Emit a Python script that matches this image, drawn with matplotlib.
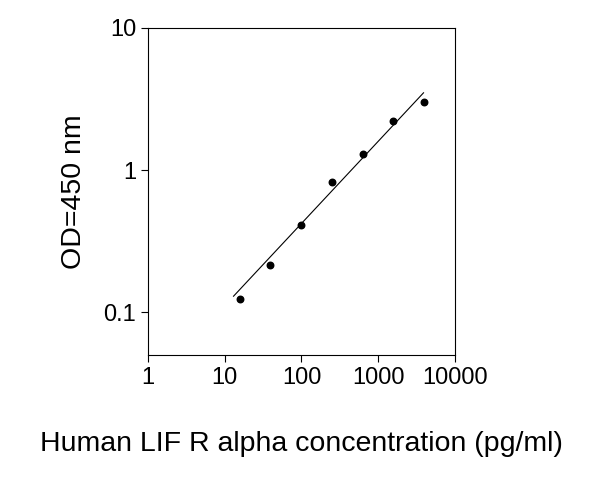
import matplotlib
matplotlib.use('Agg')
import matplotlib.pyplot as plt
from matplotlib.ticker import FixedLocator, NullLocator

plt.rcParams['font.family'] = ['Liberation Sans', 'DejaVu Sans']

# ===== DADOS =====
conc = [15.6, 39, 100, 250, 625, 1560, 3900]
od = [0.125, 0.217, 0.41, 0.82, 1.3, 2.2, 3.0]
fit_x = [13, 3900]
fit_y = [0.13, 3.5]

fig = plt.figure(figsize=(5.9, 4.82), dpi=100)
ax = fig.add_axes([0.251, 0.263, 0.52, 0.679])

ax.plot(fit_x, fit_y, color='black', lw=0.8)
ax.scatter(conc, od, color='black', s=22, zorder=3)

ax.set_xscale('log')
ax.set_yscale('log')
ax.set_xlim(1, 10000)
ax.set_ylim(0.05, 10)
ax.xaxis.set_major_locator(FixedLocator([1, 10, 100, 1000, 10000]))
ax.yaxis.set_major_locator(FixedLocator([0.1, 1, 10]))
ax.xaxis.set_minor_locator(NullLocator())
ax.yaxis.set_minor_locator(NullLocator())
ax.set_xticklabels(['1', '10', '100', '1000', '10000'])
ax.set_yticklabels(['0.1', '1', '10'])
ax.tick_params(direction='out', length=5, labelsize=17, width=0.8)
for s in ax.spines.values():
    s.set_linewidth(0.8)

ax.set_xlabel('Human LIF R alpha concentration (pg/ml)', fontsize=20.5, labelpad=30)
ax.set_ylabel('OD=450 nm', fontsize=20.5, labelpad=12)

plt.savefig('out.png', dpi=100)
plt.close()
